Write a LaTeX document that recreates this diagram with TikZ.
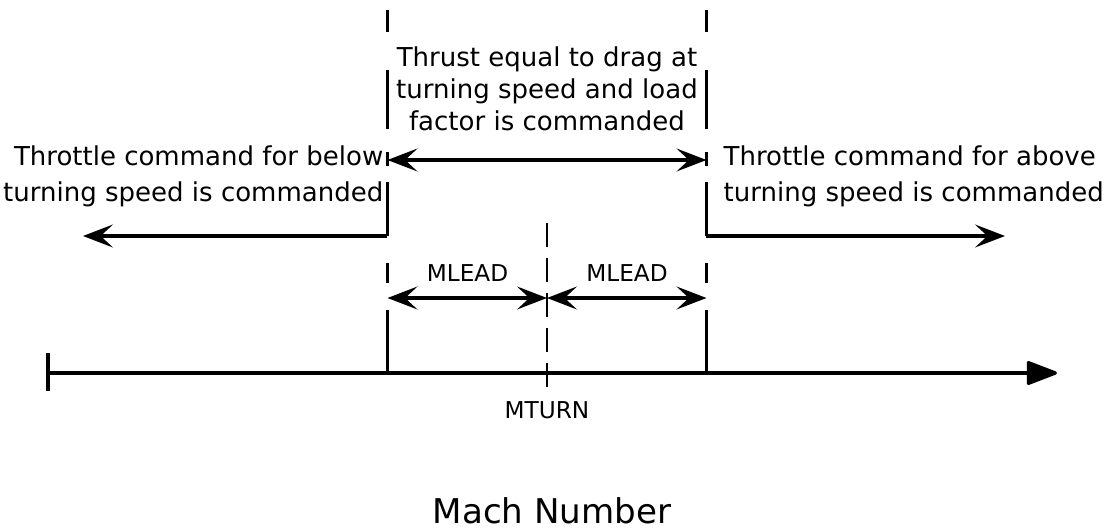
\documentclass[tikz,border=0pt]{standalone}
\usepackage{fontspec}
\setmainfont{DejaVu Sans}
\usetikzlibrary{positioning, arrows.meta}

\begin{document}
\begin{tikzpicture}[
    line width=1.9pt,
    >={Stealth[length=17pt, width=13pt, inset=7pt]},
    note/.style={font=\fontsize{14.8}{20.4}\selectfont, inner sep=0pt},
    mtag/.style={font=\fontsize{13.2}{15}\selectfont, inner sep=0pt},
    span/.style={<->},
    push/.style={->},
    guide/.style={line width=1.7pt}
]
    \useasboundingbox (-10.94,-3.16) rectangle (11.16,7.46);

    % Axis
    \coordinate (a0) at (-9.98,0);
    \coordinate (a1) at (10.2,0);
    \coordinate (mt) at (0,0);
    \draw[-{Triangle[length=19pt, width=14pt, round]}] (a0) -- (a1);
    \draw (-9.98,0.4) -- (-9.98,-0.36);

    % Bounds at MTURN -/+ MLEAD
    \foreach \x in {-3.19,3.19} {
        \draw[guide] (\x,7.26) -- (\x,6.82);
        \draw[guide] (\x,6.05) -- (\x,4.88);
        \draw[guide] (\x,4.42) -- (\x,4.14);
        \draw[guide] (\x,3.82) -- (\x,2.74);
        \draw[guide] (\x,2.2) -- (\x,1.8);
        \draw[guide] (\x,1.26) -- (\x,0);
    }
    \draw[guide, dash pattern=on 0.48cm off 0.22cm] (0,-0.28) -- (0,3.1);

    % Arrow ends
    \coordinate (tl) at (-3.19,4.26);
    \coordinate (tr) at (3.19,4.26);
    \coordinate (sl) at (-3.19,2.74);
    \coordinate (el) at (-9.28,2.74);
    \coordinate (sr) at (3.19,2.74);
    \coordinate (er) at (9.16,2.74);
    \coordinate (ml) at (-3.19,1.5);
    \coordinate (mm) at (0,1.5);
    \coordinate (mr) at (3.19,1.5);

    % Arrows
    \draw[span] (tl) -- (tr);
    \draw[push] (sl) -- (el);
    \draw[push] (sr) -- (er);
    \draw[span] (ml) -- (mm);
    \draw[span] (mm) -- (mr);

    % Texts
    \node[note, align=center, font=\fontsize{14.8}{18.2}\selectfont] (thrust) at (0,5.69) {Thrust equal to drag at\\turning speed and load\\factor is commanded};
    \node[note, align=right, anchor=east] (below) at (-3.24,3.94) {Throttle command for below\\turning speed is commanded};
    \node[note, align=left, anchor=west] (above) at (3.5,3.94) {Throttle command for above\\turning speed is commanded};
    \node[mtag] (leadl) at (-1.59,2.0) {MLEAD};
    \node[mtag] (leadr) at (1.6,2.0) {MLEAD};
    \node[mtag] (mturn) at (0,-0.74) {MTURN};
    \node[font=\fontsize{19.4}{22}\selectfont, inner sep=0pt] (mach) at (0.1,-2.76) {Mach Number};
\end{tikzpicture}
\end{document}
